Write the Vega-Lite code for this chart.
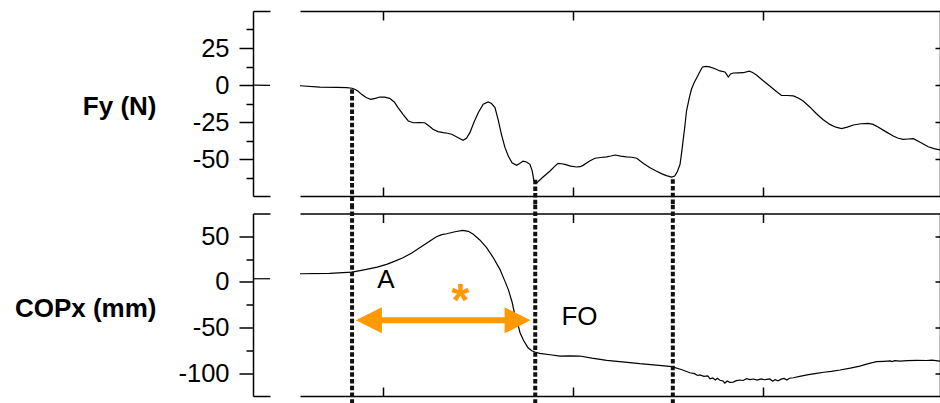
{
  "$schema": "https://vega.github.io/schema/vega-lite/v6.json",
  "padding": {"left": 14, "top": 10, "right": 0, "bottom": 0},
  "config": {
    "view": {"stroke": null},
    "font": "Liberation Sans",
    "axis": {"grid": false, "domainColor": "black", "tickColor": "black", "labelColor": "black", "titleColor": "black", "domainWidth": 1.5, "tickWidth": 1.5}
  },
  "datasets": {
    "fyStub": [{"t": 0, "v": 0}, {"t": 1, "v": -0.3}],
    "copStub": [{"t": 0, "v": 3.5}, {"t": 1, "v": 3.5}],
    "fy": [
      {"t": -218, "v": -0.5}, {"t": -166, "v": -1.4}, {"t": -120, "v": -1.6}, {"t": -95, "v": -1.8}, {"t": -81, "v": -2.2}, {"t": -74, "v": -2.9}, {"t": -65, "v": -4.2}, {"t": -56, "v": -6.3}, {"t": -44, "v": -8.5}, {"t": -32, "v": -9.7}, {"t": -20, "v": -9}, {"t": -8, "v": -8.1}, {"t": 5, "v": -8.2}, {"t": 18, "v": -9}, {"t": 30, "v": -11.5}, {"t": 40, "v": -15.3}, {"t": 53, "v": -19.8}, {"t": 67, "v": -24.3}, {"t": 80, "v": -25.5}, {"t": 95, "v": -25.4}, {"t": 110, "v": -25.5}, {"t": 121, "v": -27.5}, {"t": 132, "v": -29.9}, {"t": 145, "v": -31.5}, {"t": 159, "v": -32.2}, {"t": 170, "v": -32.6}, {"t": 181, "v": -33.3}, {"t": 196, "v": -35.3}, {"t": 211, "v": -37.4}, {"t": 220, "v": -36}, {"t": 229, "v": -32.2}, {"t": 240, "v": -25}, {"t": 251, "v": -18.7}, {"t": 264, "v": -13}, {"t": 277, "v": -11.5}, {"t": 286, "v": -12.5}, {"t": 295, "v": -15.3}, {"t": 304, "v": -24}, {"t": 312, "v": -33.3}, {"t": 321, "v": -42}, {"t": 330, "v": -48}, {"t": 340, "v": -52.6}, {"t": 352, "v": -54.3}, {"t": 360, "v": -53}, {"t": 369, "v": -51.4}, {"t": 378, "v": -52}, {"t": 387, "v": -53.6}, {"t": 393, "v": -58}, {"t": 397, "v": -64}, {"t": 401, "v": -66.5}, {"t": 406, "v": -65.8}, {"t": 420, "v": -62.5}, {"t": 440, "v": -58.1}, {"t": 450, "v": -55.5}, {"t": 461, "v": -52.9}, {"t": 470, "v": -53.2}, {"t": 479, "v": -53.6}, {"t": 494, "v": -54.8}, {"t": 510, "v": -55.4}, {"t": 519, "v": -55.2}, {"t": 527, "v": -54.3}, {"t": 543, "v": -51.5}, {"t": 558, "v": -49.5}, {"t": 573, "v": -49}, {"t": 589, "v": -48.6}, {"t": 600, "v": -48}, {"t": 611, "v": -47.3}, {"t": 626, "v": -48}, {"t": 641, "v": -48.6}, {"t": 655, "v": -48.8}, {"t": 668, "v": -49.5}, {"t": 686, "v": -53}, {"t": 703, "v": -55.9}, {"t": 718, "v": -58}, {"t": 733, "v": -59.9}, {"t": 746, "v": -61.2}, {"t": 760, "v": -62.2}, {"t": 768, "v": -61.5}, {"t": 775, "v": -58.5}, {"t": 782, "v": -53.6}, {"t": 786, "v": -46}, {"t": 790, "v": -37.8}, {"t": 795, "v": -27}, {"t": 799, "v": -17.6}, {"t": 806, "v": -9}, {"t": 812, "v": -2.9}, {"t": 819, "v": 1.5}, {"t": 826, "v": 4.9}, {"t": 834, "v": 9}, {"t": 841, "v": 12.2}, {"t": 850, "v": 12.6}, {"t": 860, "v": 12.2}, {"t": 874, "v": 11}, {"t": 887, "v": 9.5}, {"t": 900, "v": 8.8}, {"t": 905, "v": 7}, {"t": 909, "v": 5.4}, {"t": 915, "v": 7.5}, {"t": 922, "v": 8.1}, {"t": 935, "v": 8.2}, {"t": 948, "v": 8.3}, {"t": 964, "v": 9.3}, {"t": 973, "v": 8.5}, {"t": 983, "v": 6.8}, {"t": 1000, "v": 3}, {"t": 1018, "v": -0.7}, {"t": 1034, "v": -4}, {"t": 1049, "v": -7}, {"t": 1064, "v": -7.1}, {"t": 1080, "v": -7.4}, {"t": 1093, "v": -8.8}, {"t": 1106, "v": -10.8}, {"t": 1124, "v": -15}, {"t": 1141, "v": -19.4}, {"t": 1158, "v": -23.3}, {"t": 1176, "v": -26.6}, {"t": 1192, "v": -28.5}, {"t": 1207, "v": -29.5}, {"t": 1222, "v": -28.5}, {"t": 1238, "v": -27}, {"t": 1258, "v": -26.2}, {"t": 1277, "v": -25.9}, {"t": 1290, "v": -26.6}, {"t": 1303, "v": -28.4}, {"t": 1323, "v": -31.5}, {"t": 1343, "v": -34.5}, {"t": 1356, "v": -36}, {"t": 1369, "v": -36.7}, {"t": 1382, "v": -36.5}, {"t": 1396, "v": -36.3}, {"t": 1415, "v": -38.8}, {"t": 1435, "v": -41.7}, {"t": 1450, "v": -43}, {"t": 1466, "v": -43.9}
    ],
    "cop": [
      {"t": -218, "v": 9.0}, {"t": -140, "v": 9.4}, {"t": -81, "v": 10.8}, {"t": -43, "v": 13.8}, {"t": -15, "v": 16.2}, {"t": 10, "v": 19.3}, {"t": 30, "v": 22.5}, {"t": 53, "v": 26.5}, {"t": 75, "v": 31.5}, {"t": 97, "v": 37.5}, {"t": 120, "v": 43.7}, {"t": 141, "v": 49.5}, {"t": 155, "v": 51.8}, {"t": 168, "v": 52.8}, {"t": 190, "v": 55}, {"t": 210, "v": 56.5}, {"t": 225, "v": 55.5}, {"t": 238, "v": 52.2}, {"t": 255, "v": 46}, {"t": 273, "v": 37.5}, {"t": 290, "v": 27}, {"t": 308, "v": 13.8}, {"t": 320, "v": 2}, {"t": 330, "v": -8.1}, {"t": 340, "v": -22}, {"t": 347, "v": -35.5}, {"t": 355, "v": -46}, {"t": 361, "v": -55.7}, {"t": 370, "v": -64}, {"t": 382, "v": -72.1}, {"t": 392, "v": -75.5}, {"t": 400, "v": -76.8}, {"t": 413, "v": -78.2}, {"t": 440, "v": -79.8}, {"t": 466, "v": -81.2}, {"t": 490, "v": -81}, {"t": 518, "v": -81.2}, {"t": 550, "v": -83.5}, {"t": 589, "v": -85.9}, {"t": 630, "v": -87.5}, {"t": 676, "v": -89.6}, {"t": 720, "v": -91.2}, {"t": 760, "v": -92.9}, {"t": 785, "v": -96}, {"t": 808, "v": -99.5}, {"t": 820, "v": -100.5}, {"t": 828, "v": -102.5}, {"t": 834, "v": -101.8}, {"t": 845, "v": -103.5}, {"t": 855, "v": -103}, {"t": 861, "v": -106.1}, {"t": 868, "v": -105.2}, {"t": 875, "v": -107.5}, {"t": 880, "v": -105.5}, {"t": 887, "v": -107.8}, {"t": 895, "v": -108.6}, {"t": 900, "v": -110.8}, {"t": 906, "v": -108.5}, {"t": 913, "v": -110}, {"t": 922, "v": -109.7}, {"t": 930, "v": -108.2}, {"t": 940, "v": -107.5}, {"t": 948, "v": -108}, {"t": 957, "v": -106.1}, {"t": 966, "v": -107}, {"t": 975, "v": -106.4}, {"t": 985, "v": -107.5}, {"t": 995, "v": -106.2}, {"t": 1004, "v": -107.2}, {"t": 1010, "v": -106.7}, {"t": 1018, "v": -106.3}, {"t": 1026, "v": -108.9}, {"t": 1032, "v": -107}, {"t": 1040, "v": -108.4}, {"t": 1048, "v": -106.5}, {"t": 1056, "v": -105.8}, {"t": 1063, "v": -107.5}, {"t": 1070, "v": -105.5}, {"t": 1080, "v": -105}, {"t": 1100, "v": -103.2}, {"t": 1120, "v": -101.6}, {"t": 1141, "v": -100.2}, {"t": 1160, "v": -99}, {"t": 1180, "v": -98}, {"t": 1203, "v": -96.5}, {"t": 1230, "v": -94.4}, {"t": 1255, "v": -92.2}, {"t": 1275, "v": -89.8}, {"t": 1299, "v": -87.4}, {"t": 1318, "v": -87}, {"t": 1335, "v": -86.5}, {"t": 1340, "v": -87.3}, {"t": 1347, "v": -86.2}, {"t": 1361, "v": -86.7}, {"t": 1380, "v": -86.2}, {"t": 1405, "v": -85.9}, {"t": 1430, "v": -86.1}, {"t": 1445, "v": -85.6}, {"t": 1466, "v": -86.7}
    ],
    "evTop": [{"t": -81, "v1": -2.9, "v2": -81}, {"t": 401, "v1": -64, "v2": -81}, {"t": 763, "v1": -63.7, "v2": -81}],
    "evBot": [{"t": -81, "v1": 84.5, "v2": -134}, {"t": 401, "v1": 84.5, "v2": -134}, {"t": 763, "v1": 84.5, "v2": -134}],
    "arrow": [{"t1": -36.8, "t2": 354.5, "v": -42.1}],
    "heads": [{"t": -36.8, "v": -42.1, "dir": "left"}, {"t": 354.5, "v": -42.1, "dir": "right"}],
    "labels": [{"t": -15, "v": -7, "label": "A"}, {"t": 470, "v": -47.2, "label": "FO"}],
    "star": [{"t": 204, "v": -37.6, "label": "*"}]
  },
  "columns": 2,
  "spacing": {"row": 17.5, "column": 30},
  "bounds": "flush",
  "concat": [
    {
      "width": 17, "height": 185,
      "data": {"name": "fyStub"},
      "layer": [
        {
          "mark": {"type": "line", "color": "black", "strokeWidth": 1.2},
          "encoding": {
            "x": {"field": "t", "type": "quantitative", "scale": {"domain": [0, 1], "nice": false, "zero": false}, "axis": {"orient": "bottom", "ticks": false, "labels": false, "title": null}},
            "y": {"field": "v", "type": "quantitative", "scale": {"domain": [-75, 50], "nice": false, "zero": false}, "axis": {"orient": "left", "values": [-50, -25, 0, 25], "labelExpr": "toString(datum.value)", "tickSize": 14, "labelPadding": 10, "labelFontSize": 25.5, "labelFlush": false, "labelOverlap": false, "title": "Fy (N)", "titleAngle": 0, "titleAlign": "right", "titleBaseline": "alphabetic", "titleX": -97, "titleY": 103.3, "titleFontSize": 26, "titleFontWeight": "bold"}}
          }
        },
        {
          "mark": {"type": "line", "strokeOpacity": 0},
          "encoding": {
            "x": {"field": "t", "type": "quantitative", "axis": {"orient": "top", "ticks": false, "labels": false, "title": null}},
            "y": {"field": "v", "type": "quantitative", "axis": {"orient": "left", "values": [-62.5, -37.5, -12.5, 12.5, 37.5], "tickSize": 7, "labels": false, "domain": false, "title": null}}
          }
        }
      ],
      "resolve": {"axis": {"x": "independent", "y": "independent"}}
    },
    {
      "width": 640, "height": 185,
      "layer": [
        {
          "data": {"name": "fy"},
          "mark": {"type": "line", "color": "black", "strokeWidth": 1.2},
          "encoding": {
            "x": {"field": "t", "type": "quantitative", "scale": {"domain": [-218, 1466], "nice": false, "zero": false}, "axis": {"orient": "bottom", "values": [0, 500, 1000], "tickSize": -9, "labels": false, "title": null}},
            "y": {"field": "v", "type": "quantitative", "scale": {"domain": [-75, 50], "nice": false, "zero": false}, "axis": {"orient": "right", "values": [-50, -25, 0, 25], "tickSize": -5, "labels": false, "title": null}}
          }
        },
        {
          "data": {"name": "fy"},
          "mark": {"type": "line", "strokeOpacity": 0},
          "encoding": {
            "x": {"field": "t", "type": "quantitative", "axis": {"orient": "top", "values": [0, 500, 1000], "tickSize": -9, "labels": false, "title": null}},
            "y": {"field": "v", "type": "quantitative", "axis": null}
          }
        },
        {
          "data": {"name": "evTop"},
          "mark": {"type": "rule", "color": "#111111", "strokeWidth": 4, "strokeDash": [4.5, 2.2]},
          "encoding": {
            "x": {"field": "t", "type": "quantitative", "axis": null},
            "y": {"field": "v1", "type": "quantitative", "axis": null},
            "y2": {"field": "v2"}
          }
        }
      ],
      "resolve": {"axis": {"x": "independent", "y": "independent"}}
    },
    {
      "width": 17, "height": 182.5,
      "data": {"name": "copStub"},
      "layer": [
        {
          "mark": {"type": "line", "color": "black", "strokeWidth": 1.2},
          "encoding": {
            "x": {"field": "t", "type": "quantitative", "scale": {"domain": [0, 1], "nice": false, "zero": false}, "axis": {"orient": "bottom", "ticks": false, "labels": false, "title": null}},
            "y": {"field": "v", "type": "quantitative", "scale": {"domain": [-125, 75], "nice": false, "zero": false}, "axis": {"orient": "left", "values": [-100, -50, 0, 50], "labelExpr": "toString(datum.value)", "tickSize": 14, "labelPadding": 10, "labelFontSize": 25.5, "labelFlush": false, "labelOverlap": false, "title": "COPx (mm)", "titleAngle": 0, "titleAlign": "right", "titleBaseline": "alphabetic", "titleX": -97, "titleY": 102.5, "titleFontSize": 26, "titleFontWeight": "bold"}}
          }
        },
        {
          "mark": {"type": "line", "strokeOpacity": 0},
          "encoding": {
            "x": {"field": "t", "type": "quantitative", "axis": {"orient": "top", "ticks": false, "labels": false, "title": null}},
            "y": {"field": "v", "type": "quantitative", "axis": {"orient": "left", "values": [-75, -25, 25], "tickSize": 7, "labels": false, "domain": false, "title": null}}
          }
        }
      ],
      "resolve": {"axis": {"x": "independent", "y": "independent"}}
    },
    {
      "width": 640, "height": 182.5,
      "layer": [
        {
          "data": {"name": "cop"},
          "mark": {"type": "line", "color": "black", "strokeWidth": 1.2},
          "encoding": {
            "x": {"field": "t", "type": "quantitative", "scale": {"domain": [-218, 1466], "nice": false, "zero": false}, "axis": {"orient": "bottom", "values": [0, 500, 1000], "tickSize": -9, "labels": false, "title": null}},
            "y": {"field": "v", "type": "quantitative", "scale": {"domain": [-125, 75], "nice": false, "zero": false}, "axis": {"orient": "right", "values": [-100, -50, 0, 50], "tickSize": -5, "labels": false, "title": null}}
          }
        },
        {
          "data": {"name": "cop"},
          "mark": {"type": "line", "strokeOpacity": 0},
          "encoding": {
            "x": {"field": "t", "type": "quantitative", "axis": {"orient": "top", "values": [0, 500, 1000], "tickSize": -9, "labels": false, "title": null}},
            "y": {"field": "v", "type": "quantitative", "axis": null}
          }
        },
        {
          "data": {"name": "evBot"},
          "mark": {"type": "rule", "color": "#111111", "strokeWidth": 4, "strokeDash": [4.5, 2.2]},
          "encoding": {
            "x": {"field": "t", "type": "quantitative", "axis": null},
            "y": {"field": "v1", "type": "quantitative", "axis": null},
            "y2": {"field": "v2"}
          }
        },
        {
          "data": {"name": "arrow"},
          "mark": {"type": "rule", "color": "#ff9900", "strokeWidth": 6},
          "encoding": {
            "x": {"field": "t1", "type": "quantitative", "axis": null},
            "x2": {"field": "t2"},
            "y": {"field": "v", "type": "quantitative", "axis": null}
          }
        },
        {
          "data": {"name": "heads"},
          "mark": {"type": "point", "filled": true, "color": "#ff9900", "opacity": 1, "size": 676, "strokeWidth": 0},
          "encoding": {
            "x": {"field": "t", "type": "quantitative", "axis": null},
            "y": {"field": "v", "type": "quantitative", "axis": null},
            "shape": {"field": "dir", "type": "nominal", "scale": {"domain": ["left", "right"], "range": ["M1,-1L-1,0L1,1Z", "M-1,-1L1,0L-1,1Z"]}, "legend": null}
          }
        },
        {
          "data": {"name": "labels"},
          "mark": {"type": "text", "fontSize": 26, "align": "left", "baseline": "alphabetic", "color": "black"},
          "encoding": {
            "x": {"field": "t", "type": "quantitative", "axis": null},
            "y": {"field": "v", "type": "quantitative", "axis": null},
            "text": {"field": "label"}
          }
        },
        {
          "data": {"name": "star"},
          "mark": {"type": "text", "fontSize": 46, "fontWeight": "bold", "align": "center", "baseline": "alphabetic", "color": "#ff9900"},
          "encoding": {
            "x": {"field": "t", "type": "quantitative", "axis": null},
            "y": {"field": "v", "type": "quantitative", "axis": null},
            "text": {"field": "label"}
          }
        }
      ],
      "resolve": {"axis": {"x": "independent", "y": "independent"}}
    }
  ]
}
